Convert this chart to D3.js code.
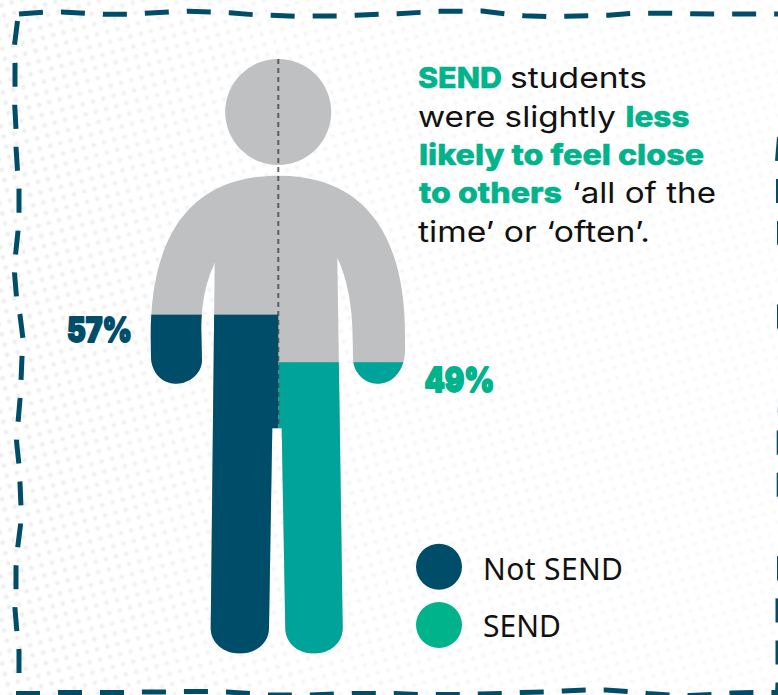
<!DOCTYPE html>
<html>
<head>
<meta charset="utf-8">
<script src="https://cdn.jsdelivr.net/npm/d3@7"></script>
<style>
html,body{margin:0;padding:0;background:#fff;overflow:hidden}
svg{display:block}
</style>
</head>
<body>
<div id="chart"></div>
<script>
// Share of students who feel close to others 'all of the time' or 'often'
const groups = ["Not SEND", "SEND"];
const shares = [57, 49];
const legendLabels = ["Not SEND", "SEND"];
const figureColours = ["#004d6a", "#00a39a"];
const legendColours = ["#004d6a", "#00b38b"];
const labelColours = ["#004d6a", "#00b38b"];

const width = 778, height = 695;
const svg = d3.select("#chart").append("svg").attr("width", width).attr("height", height);
const defs = svg.append("defs");

// Halftone background: soft dots that fade out towards the right
const softDot = defs.append("radialGradient").attr("id", "softDot");
softDot.append("stop").attr("offset", 0.3).attr("stop-color", "#e9e9eb");
softDot.append("stop").attr("offset", 1).attr("stop-color", "#e9e9eb").attr("stop-opacity", 0);
const dots = defs.append("pattern").attr("id", "halftone").attr("patternUnits", "userSpaceOnUse")
  .attr("width", 15).attr("height", 15).attr("patternTransform", "rotate(30)");
dots.append("circle").attr("cx", 3.75).attr("cy", 3.75).attr("r", 3.4).attr("fill", "url(#softDot)");
dots.append("circle").attr("cx", 11.25).attr("cy", 11.25).attr("r", 3.4).attr("fill", "url(#softDot)");
const fade = defs.append("linearGradient").attr("id", "fade").attr("x1", 0).attr("x2", 1).attr("y1", 0).attr("y2", 0);
fade.append("stop").attr("offset", 0).attr("stop-color", "#fff").attr("stop-opacity", 0.8);
fade.append("stop").attr("offset", 0.35).attr("stop-color", "#fff").attr("stop-opacity", 0.45);
fade.append("stop").attr("offset", 1).attr("stop-color", "#fff").attr("stop-opacity", 0.25);
defs.append("mask").attr("id", "fadeMask").append("rect")
  .attr("width", width).attr("height", height).attr("fill", "url(#fade)");
svg.append("rect").attr("width", width).attr("height", height).attr("fill", "url(#halftone)").attr("mask", "url(#fadeMask)");

// Hand-drawn dashed frame, one wobbling run per side
const frameColour = "#004d6a";
const frameTopY = [14,12.3,12,13.3,14.3,14.3,13.3,12,11.3,12,12.7,14.7,15.3,16.3,16,16,15.3,14.3,13.7,12.3,11.3,11.3,11,14,15.7,16.7,16.3,15.7,15.3,13.3,13.3,13.3,13.7,14,14,14,14,14];
const frameBottomY = [693.5,693.5,692.5,692.5,692.5,692.5,692,692,691.5,691.5,692,693.5,695,695,695,694,693.5,693.5,693.5,694.5,694.5,694.5,694,693.5,692.5,692,691,690,690,691.5,693.5,695,695.5,694.5,693,692.5,692.5,692.5];
const frameLeftX = [17.5,14.5,15,15,14.7,16,16,17.5,19,19,18,15.5,14.5,16.5,20,23,22,21,20,18,16.5,19,20,21,20.5,17.5,16,16,15,17,19,19];
const frameRightX = [779.5,777.5,778.5,778.5,779.5,779.5,781,781,779.5,779.5,781,781,781,780.2,779.2,779.2,779.2,779.2,781,781,779.5,779.5,778,778,778,778,778,777];

const dash = 24, gap = 18;
const sideLine = d3.line();
function alongX(ys, x0, period) {
  return ys.map((y, i) => [x0 + Math.floor(i / 2) * period + (i % 2) * dash, y]);
}
function alongY(xs, y0, period) {
  return xs.map((x, i) => [x, y0 + Math.floor(i / 2) * period + (i % 2) * dash]);
}
const frameRuns = [
  alongX(frameTopY, 19, 42.1),
  alongX(frameBottomY, 16, 42.1),
  alongY(frameLeftX, 21, 42),
  alongY(frameRightX, 137, 42)
];
svg.append("g").selectAll("path").data(frameRuns).join("path")
  .attr("d", sideLine).attr("fill", "none").attr("stroke", frameColour)
  .attr("stroke-width", 5).attr("stroke-dasharray", `${dash} ${gap}`);

// Pictogram: the figure's height runs from 0% at the feet to 100% at the crown
const y = d3.scaleLinear().domain([0, 100]).range([653.5, 59]);
const x = d3.scaleBand().domain(groups).range([150, 406.6]);

const headPath = d3.path();
headPath.arc(278.2, 112, 53, 0, 2 * Math.PI);
const bodyPath = `M278.3,175.7
  C365,175.7 405,235 405,335 L405,350
  C405,370 393,383.7 378,383.7 C364,383.7 353,372 353,358
  L352.7,340 C352.5,305 347,278 337.3,257.7
  L339.7,420 L342.7,628
  C342.7,643 330,653.5 314,653.5 C298,653.5 285.3,643 285.3,628
  L281.7,428.3 L272.3,428.3 L269,628
  C269,643 256,653.5 240,653.5 C224,653.5 210.7,643 210.7,628
  L214.7,262.7 C207,280 201.3,300 201.3,330 L202,360
  C202,373 190,383.7 176,383.7 C162,383.7 152,373 151,358
  L150.7,335 C150.7,235 191,175.7 278.3,175.7 Z`;
const silhouette = headPath.toString() + bodyPath;

defs.append("clipPath").attr("id", "figure").append("path").attr("d", silhouette);

svg.append("path").attr("d", silhouette).attr("fill", "#bfc0c2");

svg.append("g").attr("clip-path", "url(#figure)")
  .selectAll("rect").data(groups).join("rect")
  .attr("x", d => x(d))
  .attr("width", x.bandwidth())
  .attr("y", (d, i) => y(shares[i]))
  .attr("height", (d, i) => y(0) - y(shares[i]))
  .attr("fill", (d, i) => figureColours[i]);

// Dashed axis of symmetry from the crown down to the legs
svg.append("line")
  .attr("x1", x("SEND")).attr("x2", x("SEND"))
  .attr("y1", y(100)).attr("y2", 428)
  .attr("stroke", "#3c3c3c").attr("stroke-opacity", 0.75)
  .attr("stroke-width", 2).attr("stroke-dasharray", "5 4");

// Percentage callouts, thickened with a matching outline
svg.append("g").selectAll("text").data(groups).join("text")
  .attr("x", (d, i) => [67, 424.5][i])
  .attr("y", (d, i) => [342, 392][i])
  .attr("textLength", (d, i) => [65, 70][i])
  .attr("lengthAdjust", "spacingAndGlyphs")
  .style("font-family", "Inter, Roboto, sans-serif")
  .style("font-size", "34px")
  .style("font-weight", 900)
  .attr("fill", (d, i) => labelColours[i])
  .attr("stroke", (d, i) => labelColours[i])
  .attr("stroke-width", 1.8)
  .attr("stroke-linejoin", "round")
  .text((d, i) => `${shares[i]}%`);

// Takeaway text, one run per colour change
const green = "#00b38b", ink = "#111";
const takeaway = [
  { t: "SEND", x: 418, w: 84, line: 0, bold: true },
  { t: "students", x: 510, w: 137, line: 0 },
  { t: "were slightly", x: 418, w: 198, line: 1 },
  { t: "less", x: 625.5, w: 64, line: 1, bold: true },
  { t: "likely to feel close", x: 419, w: 285, line: 2, bold: true },
  { t: "to others", x: 419, w: 143, line: 3, bold: true },
  { t: "‘all of the", x: 572, w: 144, line: 3 },
  { t: "time’ or ‘often’.", x: 418, w: 232, line: 4 }
];
svg.append("g").selectAll("text").data(takeaway).join("text")
  .attr("x", d => d.x)
  .attr("y", d => 88.3 + d.line * 38.3)
  .attr("textLength", d => d.w)
  .attr("lengthAdjust", "spacingAndGlyphs")
  .style("font-family", "Inter, Lato, sans-serif")
  .style("font-size", "29px")
  .style("font-weight", d => d.bold ? 800 : 400)
  .attr("fill", d => d.bold ? green : ink)
  .attr("stroke", d => d.bold ? green : "none")
  .attr("stroke-width", d => d.bold ? 0.5 : 0)
  .text(d => d.t);

// Legend
const legend = svg.append("g").selectAll("g").data(legendLabels).join("g")
  .attr("transform", (d, i) => `translate(439,${[566.7, 625][i]})`);
legend.append("circle").attr("r", 23).attr("fill", (d, i) => legendColours[i]);
legend.append("text")
  .attr("x", 44).attr("y", (d, i) => [13.3, 12.3][i])
  .attr("textLength", (d, i) => [140, 78][i])
  .attr("lengthAdjust", "spacing")
  .style("font-family", "'Noto Sans', sans-serif")
  .style("font-size", "30px")
  .attr("fill", ink)
  .text(d => d);
</script>
</body>
</html>
